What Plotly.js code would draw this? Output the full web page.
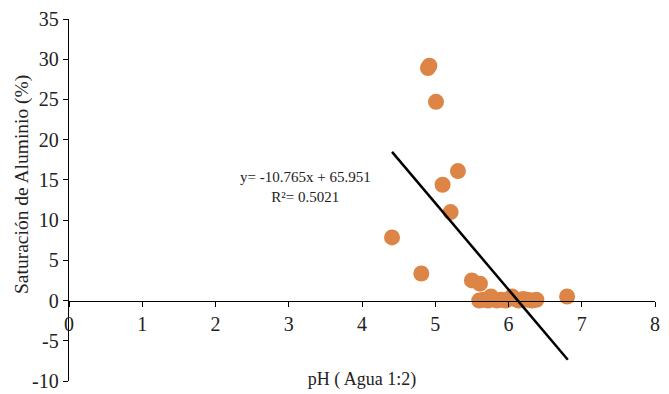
<!DOCTYPE html>
<html>
<head>
<meta charset="utf-8">
<script src="https://cdn.plot.ly/plotly-3.0.1.min.js"></script>
<style>html,body{margin:0;padding:0;background:#fff;}#chart{width:669px;height:394px;}</style>
</head>
<body>
<div id="chart"></div>
<script>
// pH (Agua 1:2)
const phValues = [4.90, 4.92, 5.01, 5.10, 5.31, 5.21, 4.41, 4.81, 5.50, 5.61, 6.80,
  5.60, 5.66, 5.72, 5.78, 5.84, 5.90, 5.96, 6.02, 6.08, 6.14, 6.20, 6.26, 6.32, 6.38, 5.76, 6.05];
// Saturación de Aluminio (%)
const satAl = [28.9, 29.2, 24.7, 14.4, 16.1, 11.0, 7.85, 3.36, 2.5, 2.1, 0.5,
  0.0, 0.1, 0.0, 0.2, 0.0, 0.1, 0.0, 0.3, 0.2, 0.0, 0.2, 0.1, 0.0, 0.1, 0.5, 0.5];
// Trend line: y = slope*x + intercept
const slope = -10.765;
const intercept = 65.951;
const r2 = 0.5021;
const trendX = [4.41, 6.81];
const trendY = trendX.map(x => slope * x + intercept);

// tick labels
const xTickVals = [0, 1, 2, 3, 4, 5, 6, 7, 8];
const xTickText = ['0', '1', '2', '3', '4', '5', '6', '7', '8'];
const yTickVals = [-10, -5, 0, 5, 10, 15, 20, 25, 30, 35];
const yTickText = ['-10', '-5', '0', '5', '10', '15', '20', '25', '30', '35'];

const font = "Liberation Serif, Times New Roman, serif";

const data = [
  {x: phValues, y: satAl, type: 'scatter', mode: 'markers',
   marker: {color: '#DC8546', size: 16}, showlegend: false},
  {x: trendX, y: trendY, type: 'scatter', mode: 'lines',
   line: {color: '#000000', width: 2.5}, showlegend: false}
];

const layout = {
  width: 669, height: 394,
  margin: {l: 69, r: 14, t: 19, b: 13},
  paper_bgcolor: '#fff', plot_bgcolor: '#fff',
  font: {family: font, color: '#222', size: 20},
  xaxis: {
    range: [0, 8], tickmode: 'array', tickvals: xTickVals, ticktext: xTickText,
    anchor: 'free', position: 10 / 45,
    showgrid: false, zeroline: false,
    showline: true, linecolor: '#000', linewidth: 1.3,
    ticks: 'outside', ticklen: 5, tickcolor: '#000',
    tickfont: {family: font, size: 20, color: '#222'},
    title: {text: 'pH ( Agua 1:2)', font: {family: font, size: 18, color: '#222'}, standoff: 38},
    automargin: false
  },
  yaxis: {
    range: [-10, 35], tickmode: 'array', tickvals: yTickVals, ticktext: yTickText,
    showgrid: false, zeroline: false,
    showline: true, linecolor: '#000', linewidth: 1.3,
    ticks: 'outside', ticklen: 5, tickcolor: '#000',
    tickfont: {family: font, size: 20, color: '#222'},
    automargin: false
  },
  annotations: [
    {
      xref: 'x', yref: 'y', x: (305 - 69) / 73.25, y: (300 - 187) / 8.03,
      text: 'y= -10.765x + 65.951<br>R²= ' + r2,
      showarrow: false, font: {family: font, size: 15, color: '#222'}, align: 'center'
    },
    {
      xref: 'paper', yref: 'paper', x: 0, y: (381 - 185) / 362,
      xshift: -47, xanchor: 'center', yanchor: 'middle',
      text: 'Saturación de Aluminio (%)', textangle: -90,
      showarrow: false, font: {family: font, size: 19.5, color: '#222'}
    }
  ]
};

Plotly.newPlot('chart', data, layout, {displayModeBar: false, staticPlot: true});
</script>
</body>
</html>
